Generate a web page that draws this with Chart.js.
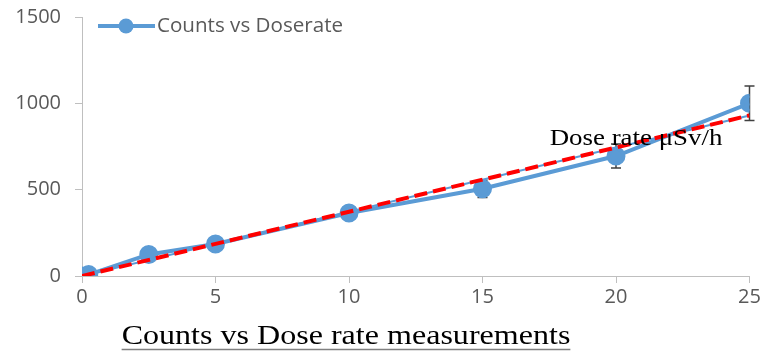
<!DOCTYPE html>
<html>
<head>
<meta charset="utf-8">
<script src="https://cdn.jsdelivr.net/npm/chart.js@4/dist/chart.umd.min.js"></script>
<style>
  html, body { margin: 0; padding: 0; background: #fff; }
  #wrap { position: relative; width: 761px; height: 351px; }
</style>
</head>
<body>
<div id="wrap"><canvas id="myChart" width="761" height="351"></canvas></div>
<script>
// dose rate (x) and counts (y)
const doseRates = [0, 0.25, 2.5, 5, 10, 15, 20, 25];
const counts = [0, 8, 125, 185, 365, 505, 695, 1000];
const countErrors = [0, 1, 12, 18, 36, 50, 70, 100];
// linear trend line ends
const trendX = [0, 25];
const trendY = [0, 930];
const xTicks = [0, 5, 10, 15, 20, 25];
const yTicks = [0, 500, 1000, 1500];

const blue = "#5B9BD5";
const tickFont = { family: "'Open Sans'", size: 20 };

const points = doseRates.map((d, i) => ({ x: d, y: counts[i] }));
const trend = trendX.map((d, i) => ({ x: d, y: trendY[i] }));

// error bars behind the markers
const errorBars = {
  id: "errorBars",
  beforeDatasetsDraw(chart) {
    const c = chart.ctx;
    const xs = chart.scales.x, ys = chart.scales.y;
    c.save();
    c.strokeStyle = "#404040";
    c.lineWidth = 1.5;
    doseRates.forEach((d, i) => {
      if (!countErrors[i]) return;
      const px = xs.getPixelForValue(d);
      const top = ys.getPixelForValue(counts[i] + countErrors[i]);
      const bot = ys.getPixelForValue(counts[i] - countErrors[i]);
      c.beginPath();
      c.moveTo(px, top); c.lineTo(px, bot);
      c.moveTo(px - 5, top); c.lineTo(px + 5, top);
      c.moveTo(px - 5, bot); c.lineTo(px + 5, bot);
      c.stroke();
    });
    c.restore();
  }
};

// text a bit wider than the font, like the picture
const wideText = (c, text, x, y, sx) => {
  c.save();
  c.translate(x, y);
  c.scale(sx, 1);
  c.fillText(text, 0, 0);
  const w = c.measureText(text).width * sx;
  c.restore();
  return w;
};

// legend, annotation and underlined title
const extras = {
  id: "extras",
  afterDraw(chart) {
    const c = chart.ctx;
    c.save();
    // legend
    c.strokeStyle = blue;
    c.lineWidth = 4;
    c.beginPath(); c.moveTo(98, 26); c.lineTo(155, 26); c.stroke();
    c.fillStyle = blue;
    c.beginPath(); c.arc(126, 26, 7.5, 0, Math.PI * 2); c.fill();
    c.fillStyle = "#595959";
    c.font = "20.6px 'Open Sans'";
    c.textBaseline = "middle";
    c.fillText("Counts vs Doserate", 157, 26);

    // annotation near the trend line
    c.fillStyle = "#000";
    c.textBaseline = "alphabetic";
    c.textAlign = "center";
    c.font = "24px 'Liberation Serif'";
    wideText(c, "Dose rate \u03bcSv/h", 636, 145, 1.12);

    // title at the bottom
    c.font = "28px 'Liberation Serif'";
    const w = wideText(c, "Counts vs Dose rate measurements", 346, 344, 1.145);
    c.strokeStyle = "#808080";
    c.lineWidth = 1.5;
    c.beginPath(); c.moveTo(346 - w / 2, 349.5); c.lineTo(346 + w / 2, 349.5); c.stroke();
    c.restore();
  }
};

const ctx = document.getElementById("myChart").getContext("2d");
const myChart = new Chart(ctx, {
  type: "scatter",
  data: {
    datasets: [
      {
        label: "Counts vs Doserate",
        data: points,
        showLine: true,
        borderColor: blue,
        backgroundColor: blue,
        borderWidth: 4,
        pointRadius: 7.5,
        pointHoverRadius: 7.5,
        tension: 0,
        order: 3,
      },
      {
        label: "trend base",
        data: trend,
        showLine: true,
        borderColor: blue,
        borderWidth: 2,
        pointRadius: 0,
        order: 2,
      },
      {
        label: "trend",
        data: trend,
        showLine: true,
        borderColor: "#FF0000",
        borderWidth: 4,
        borderDash: [13, 6],
        pointRadius: 0,
        order: 1,
      },
    ],
  },
  options: {
    responsive: false,
    animation: false,
    layout: { padding: { left: 0, right: 11, top: 17, bottom: 45 } },
    plugins: {
      legend: { display: false },
      tooltip: { enabled: false },
    },
    scales: {
      x: {
        type: "linear",
        min: 0,
        max: 25,
        afterBuildTicks: s => { s.ticks = xTicks.map(v => ({ value: v })); },
        afterFit: s => { s.height = 30; s.paddingLeft = 0; s.paddingRight = 0; },
        ticks: { color: "#595959", font: tickFont, padding: 2, maxRotation: 0, callback: v => String(v) },
        grid: { drawOnChartArea: false, drawTicks: true, tickLength: 7, color: "#BFBFBF" },
        border: { color: "#BFBFBF", width: 1 },
      },
      y: {
        type: "linear",
        min: 0,
        max: 1500,
        afterBuildTicks: s => { s.ticks = yTicks.map(v => ({ value: v })); },
        afterFit: s => { s.width = 82; s.paddingTop = 0; s.paddingBottom = 0; },
        ticks: { color: "#595959", font: tickFont, padding: 14, callback: v => String(v) },
        grid: { drawOnChartArea: false, drawTicks: true, tickLength: 7, color: "#BFBFBF" },
        border: { color: "#BFBFBF", width: 1 },
      },
    },
  },
  plugins: [errorBars, extras],
});
</script>
</body>
</html>
